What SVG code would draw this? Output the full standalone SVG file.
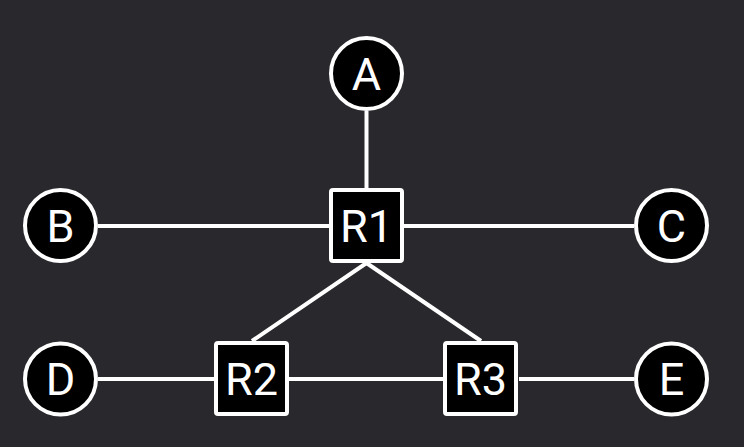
<svg xmlns="http://www.w3.org/2000/svg" width="744" height="447" viewBox="0 0 744 447">
<style>
.bg{fill:#29282d}
.edge{stroke:#ffffff;stroke-width:4;fill:none;stroke-linecap:butt}
.host{fill:#000000;stroke:#ffffff;stroke-width:4}
.router{fill:#000000;stroke:#ffffff;stroke-width:4}
.lbl{fill:#ffffff;font-family:Roboto,"Liberation Sans",sans-serif;font-size:45px;font-weight:400;text-anchor:middle}
</style>
<rect class="bg" x="0" y="0" width="744" height="447"/>
<g id="connectors">
<line class="edge" x1="366.5" y1="111" x2="366.5" y2="188"/>
<line class="edge" x1="98" y1="226" x2="329" y2="226"/>
<line class="edge" x1="404" y1="226" x2="634" y2="226"/>
<line class="edge" x1="366.5" y1="263" x2="252" y2="341"/>
<line class="edge" x1="366.5" y1="263" x2="481" y2="341"/>
<line class="edge" x1="98" y1="379" x2="214" y2="379"/>
<line class="edge" x1="289" y1="379" x2="443" y2="379"/>
<line class="edge" x1="519" y1="379" x2="634" y2="379"/>
</g>
<g id="A"><circle class="host" cx="366.5" cy="73.5" r="35.5"/><text class="lbl" x="366.5" y="89.5">A</text></g>
<g id="B"><circle class="host" cx="60.5" cy="225.5" r="35.5"/><text class="lbl" x="60.5" y="241.5">B</text></g>
<g id="C"><circle class="host" cx="671.5" cy="225.5" r="35.5"/><text class="lbl" x="671.5" y="241.5">C</text></g>
<g id="D"><circle class="host" cx="60.5" cy="379" r="35.5"/><text class="lbl" x="60.5" y="395">D</text></g>
<g id="E"><circle class="host" cx="671.5" cy="379" r="35.5"/><text class="lbl" x="671.5" y="395">E</text></g>
<g id="R1"><rect class="router" x="331" y="190" width="71" height="71" rx="2"/><text class="lbl" x="366.5" y="242">R1</text></g>
<g id="R2"><rect class="router" x="216" y="343" width="71" height="71" rx="2"/><text class="lbl" x="251.5" y="395">R2</text></g>
<g id="R3"><rect class="router" x="445" y="343" width="71" height="71" rx="2"/><text class="lbl" x="480.5" y="395">R3</text></g>
</svg>
